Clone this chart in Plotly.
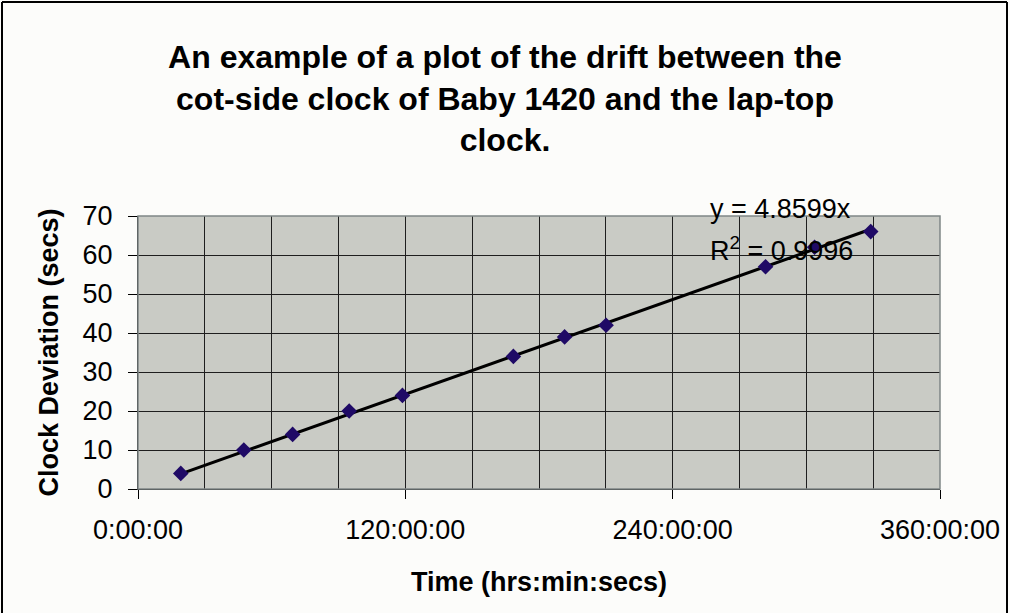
import plotly.graph_objects as go

# ---- data ----
hours = [19.2, 47.5, 69.4, 94.8, 118.7, 168.5, 191.5, 210.1, 281.7, 303.7, 328.9]
deviation_secs = [4, 10, 14, 20, 24, 34, 39, 42, 57, 62, 66]
trend_slope_per_day = 4.8599
r_squared = 0.9996
x_tick_values = [0, 120, 240, 360]
x_tick_labels = ["0:00:00", "120:00:00", "240:00:00", "360:00:00"]
y_tick_values = [0, 10, 20, 30, 40, 50, 60, 70]

title_text = ("An example of a plot of the drift between the<br>"
              "cot-side clock of Baby 1420 and the lap-top<br>clock.")

# ---- layout geometry ----
W, H = 1010, 613
L, R, T, B = 138, 70, 216, 124
pw, ph = W - L - R, H - T - B

def px_to_paper_x(px):
    return (px - L) / pw

def py_to_paper_y(py):
    return (H - B - py) / ph

FONT = "Liberation Sans, Arial, sans-serif"
GRID = "#1e1e1e"

fig = go.Figure()

# trendline (through origin, slope per day; x in hours)
tx = [hours[0], hours[-1]]
ty = [trend_slope_per_day * h / 24.0 for h in tx]
fig.add_trace(go.Scatter(x=tx, y=ty, mode="lines",
                         line=dict(color="black", width=3),
                         hoverinfo="skip", showlegend=False))

fig.add_trace(go.Scatter(x=hours, y=deviation_secs, mode="markers",
                         marker=dict(symbol="diamond", size=12, color="#1f0a66",
                                     line=dict(width=0)),
                         showlegend=False))

fig.update_layout(
    width=W, height=H,
    margin=dict(l=L, r=R, t=T, b=B, autoexpand=False),
    paper_bgcolor="#fcfcfa",
    plot_bgcolor="#c9cbc5",
    font=dict(family=FONT, color="black"),
    title=dict(text="<b>" + title_text + "</b>",
               font=dict(family=FONT, size=32, color="black"),
               x=0.5, xref="container", xanchor="center",
               y=1 - 68 / H, yref="container", yanchor="top"),
    showlegend=False,
)

fig.update_xaxes(
    range=[0, 360], tickvals=x_tick_values, ticktext=x_tick_labels,
    ticks="outside", ticklen=9, tickwidth=1, tickcolor="black",
    tickfont=dict(size=27, family=FONT, color="black"),
    ticklabelstandoff=8,
    showgrid=True, gridcolor=GRID, gridwidth=1,
    minor=dict(dtick=30, tick0=0, showgrid=True, gridcolor=GRID, gridwidth=1, ticks=""),
    showline=True, linecolor="black", linewidth=1,
    zeroline=False,
    title=dict(text="<b>Time (hrs:min:secs)</b>",
               font=dict(size=27, family=FONT, color="black"), standoff=27),
    automargin=False,
)

fig.update_yaxes(
    range=[0, 70], tickvals=y_tick_values,
    ticks="outside", ticklen=9, tickwidth=1, tickcolor="black",
    tickfont=dict(size=27, family=FONT, color="black"),
    ticklabelstandoff=10,
    showgrid=True, gridcolor=GRID, gridwidth=1,
    showline=True, linecolor="black", linewidth=1,
    zeroline=False,
    title=dict(text="<b>Clock Deviation (secs)</b>",
               font=dict(size=27, family=FONT, color="black"), standoff=16),
    automargin=False,
)

# plot-area border (gray)
fig.add_shape(type="rect", xref="paper", yref="paper", x0=0, x1=1, y0=0, y1=1,
              line=dict(color="#7f8787", width=1.5), fillcolor="rgba(0,0,0,0)", layer="above")

# outer chart frame (top, left, right)
fx0, fx1 = px_to_paper_x(2), px_to_paper_x(1007)
fy0, fy1 = py_to_paper_y(613), py_to_paper_y(2)
fig.add_shape(type="line", xref="paper", yref="paper", x0=fx0, x1=fx1, y0=fy1, y1=fy1,
              line=dict(color="black", width=2))
fig.add_shape(type="line", xref="paper", yref="paper", x0=fx0, x1=fx0, y0=fy0, y1=fy1,
              line=dict(color="black", width=2))
fig.add_shape(type="line", xref="paper", yref="paper", x0=fx1, x1=fx1, y0=fy0, y1=fy1,
              line=dict(color="black", width=2))

# trendline equation labels (paper coords so they may sit above the plot area)
fig.add_annotation(x=px_to_paper_x(708), y=py_to_paper_y(209), xref="paper", yref="paper",
                   text="y = " + f"{trend_slope_per_day:.4f}" + "x",
                   showarrow=False, xanchor="left", yanchor="middle",
                   font=dict(size=27, family=FONT, color="black"))
fig.add_annotation(x=px_to_paper_x(708), y=py_to_paper_y(249), xref="paper", yref="paper",
                   text="R<sup>2</sup> = " + f"{r_squared:.4f}",
                   showarrow=False, xanchor="left", yanchor="middle",
                   font=dict(size=27, family=FONT, color="black"))

fig.write_html("out.html", config={"displayModeBar": False},
               post_script="document.body.style.margin='0';document.body.style.overflow='hidden';")
